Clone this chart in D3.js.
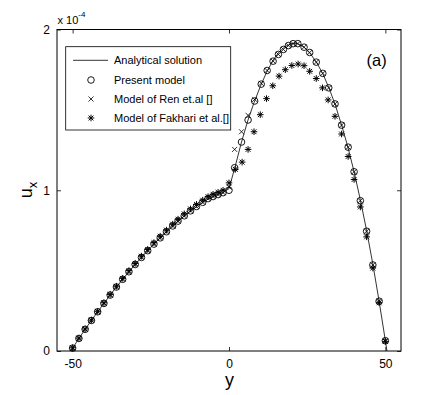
<!DOCTYPE html>
<html>
<head>
<meta charset="utf-8">
<script src="https://cdn.jsdelivr.net/npm/d3@7"></script>
<style>
html,body{margin:0;padding:0;background:#fff;}
svg{display:block;font-family:"Liberation Sans",Arial,Helvetica,sans-serif;}
</style>
</head>
<body>
<svg id="chart" width="443" height="395"></svg>
<script>
// ---- data (u_x in units of 1e-4) ----
const analyticY = [-50.5,-50,-48,-46,-44,-42,-40,-38,-36,-34,-32,-30,-28,-26,-24,-22,-20,-18,-16,-14,-12,-10,-8,-6,-4,-2,0,2,4,6,8,10,12,14,16,18,20,21,22,24,26,28,30,32,34,36,38,40,42,44,46,48,50,50.5];
const analyticU = [0,0.018,0.078,0.135,0.19,0.244,0.296,0.348,0.398,0.446,0.493,0.538,0.582,0.624,0.665,0.704,0.742,0.778,0.812,0.845,0.876,0.905,0.93,0.952,0.97,0.985,1.01,1.15,1.30,1.432,1.545,1.645,1.733,1.806,1.86,1.895,1.912,1.915,1.912,1.89,1.85,1.795,1.725,1.635,1.53,1.405,1.27,1.115,0.94,0.75,0.54,0.31,0.064,0];

const presentY = [-50,-48,-46,-44,-42,-40,-38,-36,-34,-32,-30,-28,-26,-24,-22,-20,-18,-16.3,-14.3,-12.3,-10.4,-8.4,-6.7,-5.1,-3.5,-1.9,0,1.8,4.0,6.1,8.2,10.3,12.2,14.1,15.8,17.4,19.0,20.5,22.0,24.0,25.8,27.9,30.0,31.9,33.9,36.0,38.1,40.0,42.0,44.0,46.0,48.0,50.0];
const presentU = [0.018,0.078,0.135,0.19,0.244,0.296,0.348,0.398,0.446,0.493,0.538,0.582,0.624,0.665,0.704,0.742,0.778,0.808,0.841,0.872,0.899,0.925,0.948,0.961,0.973,0.985,1.0,1.14,1.30,1.437,1.555,1.66,1.745,1.803,1.845,1.876,1.900,1.912,1.912,1.890,1.857,1.797,1.727,1.637,1.537,1.405,1.268,1.115,0.935,0.745,0.535,0.31,0.064];

const renY = presentY;
const renU = [0.018,0.078,0.135,0.19,0.244,0.296,0.348,0.398,0.446,0.493,0.538,0.582,0.624,0.665,0.704,0.742,0.778,0.808,0.841,0.872,0.899,0.925,0.948,0.961,0.973,0.985,1.02,1.254,1.364,1.466,1.565,1.665,1.745,1.803,1.845,1.876,1.900,1.912,1.912,1.890,1.857,1.797,1.727,1.637,1.537,1.405,1.268,1.115,0.935,0.745,0.535,0.31,0.064];

const fakhariY = [-50,-48,-46,-44,-42,-40,-38,-36,-34,-32,-30,-28,-26,-24,-22,-20,-18,-16.3,-14.3,-12.3,-10.4,-8.4,-6.7,-5.1,-3.5,-1.9,0,2.0,4.2,6.1,8.0,10.0,12.0,14.0,16.0,18.0,20.1,22.1,24.0,25.8,27.9,29.9,31.7,33.9,36.0,38.1,40.0,42.0,44.0,46.0,48.0,50.0];
const fakhariU = [0.02,0.08,0.137,0.192,0.247,0.3,0.352,0.403,0.452,0.5,0.545,0.59,0.632,0.674,0.714,0.752,0.789,0.82,0.853,0.884,0.912,0.938,0.96,0.975,0.987,1.0,1.046,1.13,1.175,1.254,1.364,1.47,1.57,1.65,1.71,1.75,1.776,1.785,1.775,1.74,1.695,1.637,1.562,1.46,1.35,1.21,1.067,0.896,0.71,0.516,0.30,0.06];

const xTicks = [-50, 0, 50];
const yTicks = [0, 1, 2];
const legendLabels = ["Analytical solution","Present model","Model of Ren et.al []","Model of Fakhari et al.[]"];

// ---- layout ----
const svg = d3.select("#chart");
const L = 57, R = 401, T = 29.5, B = 351;
const x = d3.scaleLinear().domain([-55, 55]).range([L, R]);
const y = d3.scaleLinear().domain([0, 2]).range([B, T]);

// plot box
svg.append("rect").attr("x", L).attr("y", T).attr("width", R - L).attr("height", B - T)
  .attr("fill", "none").attr("stroke", "#000").attr("stroke-width", 1);

// axes with inward ticks
const tk = 4;
svg.append("g").attr("transform", `translate(0,${B})`)
  .call(d3.axisBottom(x).tickValues(xTicks).tickSizeInner(-tk).tickSizeOuter(0).tickPadding(8).tickFormat(d3.format("d")))
  .call(g => g.select(".domain").remove())
  .call(g => g.selectAll("text").attr("font-size", 12).attr("fill", "#000").attr("font-family", "Liberation Sans, Arial, sans-serif").text(d => d < 0 ? "-" + Math.abs(d) : d));
svg.append("g").attr("transform", `translate(0,${T})`)
  .call(d3.axisTop(x).tickValues(xTicks).tickSizeInner(-tk).tickSizeOuter(0).tickFormat(""))
  .call(g => g.select(".domain").remove());
svg.append("g").attr("transform", `translate(${L},0)`)
  .call(d3.axisLeft(y).tickValues(yTicks).tickSizeInner(-tk).tickSizeOuter(0).tickPadding(7).tickFormat(d3.format("d")))
  .call(g => g.select(".domain").remove())
  .call(g => g.selectAll("text").attr("font-size", 12).attr("fill", "#000").attr("font-family", "Liberation Sans, Arial, sans-serif"));
svg.append("g").attr("transform", `translate(${R},0)`)
  .call(d3.axisRight(y).tickValues(yTicks).tickSizeInner(-tk).tickSizeOuter(0).tickFormat(""))
  .call(g => g.select(".domain").remove());
svg.selectAll(".tick line").attr("stroke", "#000").attr("stroke-width", 0.8);

// exponent label
const ex = svg.append("text").attr("x", 57.5).attr("y", 24).attr("font-size", 11).attr("fill", "#000");
ex.append("tspan").text("x 10");
ex.append("tspan").attr("dy", -7).attr("font-size", 8).text("-4");

// axis labels
svg.append("text").attr("x", 229.5).attr("y", 386).attr("text-anchor", "middle")
  .attr("font-size", 18).attr("fill", "#000").text("y");
const yl = svg.append("text").attr("transform", "translate(32,190) rotate(-90)").attr("text-anchor", "middle")
  .attr("font-size", 18).attr("fill", "#000");
yl.append("tspan").text("u");
yl.append("tspan").attr("dy", 5).attr("font-size", 13).text("x");

// analytical line
const line = d3.line().x((d, i) => x(analyticY[i])).y((d, i) => y(analyticU[i]));
svg.append("path").datum(analyticU).attr("d", line).attr("fill", "none")
  .attr("stroke", "#000").attr("stroke-width", 0.8);

// marker drawers
function circleM(g, cx, cy) {
  g.append("circle").attr("cx", cx).attr("cy", cy).attr("r", 3.3).attr("fill", "none")
    .attr("stroke", "#000").attr("stroke-width", 0.9);
}
function crossM(g, cx, cy) {
  const s = 2.5;
  g.append("path").attr("d", `M${cx - s},${cy - s}L${cx + s},${cy + s}M${cx - s},${cy + s}L${cx + s},${cy - s}`)
    .attr("stroke", "#000").attr("stroke-width", 0.8).attr("fill", "none");
}
function starM(g, cx, cy) {
  const s = 3.3, d = 2.4;
  g.append("path").attr("d", `M${cx - s},${cy}L${cx + s},${cy}M${cx},${cy - s}L${cx},${cy + s}M${cx - d},${cy - d}L${cx + d},${cy + d}M${cx - d},${cy + d}L${cx + d},${cy - d}`)
    .attr("stroke", "#000").attr("stroke-width", 1).attr("fill", "none");
}

const gP = svg.append("g");
presentU.forEach((v, i) => circleM(gP, x(presentY[i]), y(v)));
const gR = svg.append("g");
renU.forEach((v, i) => crossM(gR, x(renY[i]), y(v)));
const gF = svg.append("g");
fakhariU.forEach((v, i) => starM(gF, x(fakhariY[i]), y(v)));

// panel label
svg.append("text").attr("x", 366.5).attr("y", 66).attr("font-size", 16.5).attr("fill", "#000").text("(a)");

// legend
const lg = svg.append("g");
lg.append("rect").attr("x", 65.7).attr("y", 46.7).attr("width", 165).attr("height", 83.3)
  .attr("fill", "#fff").attr("stroke", "#000").attr("stroke-width", 0.8);
const rowY = [60.3, 80, 99, 118];
lg.append("line").attr("x1", 73).attr("x2", 108).attr("y1", rowY[0]).attr("y2", rowY[0])
  .attr("stroke", "#000").attr("stroke-width", 0.8);
circleM(lg, 91, rowY[1]);
crossM(lg, 91, rowY[2]);
starM(lg, 91, rowY[3]);
legendLabels.forEach((t, i) => {
  lg.append("text").attr("x", 114).attr("y", rowY[i] + 4).attr("font-size", 11).attr("fill", "#000").text(t);
});
</script>
</body>
</html>
